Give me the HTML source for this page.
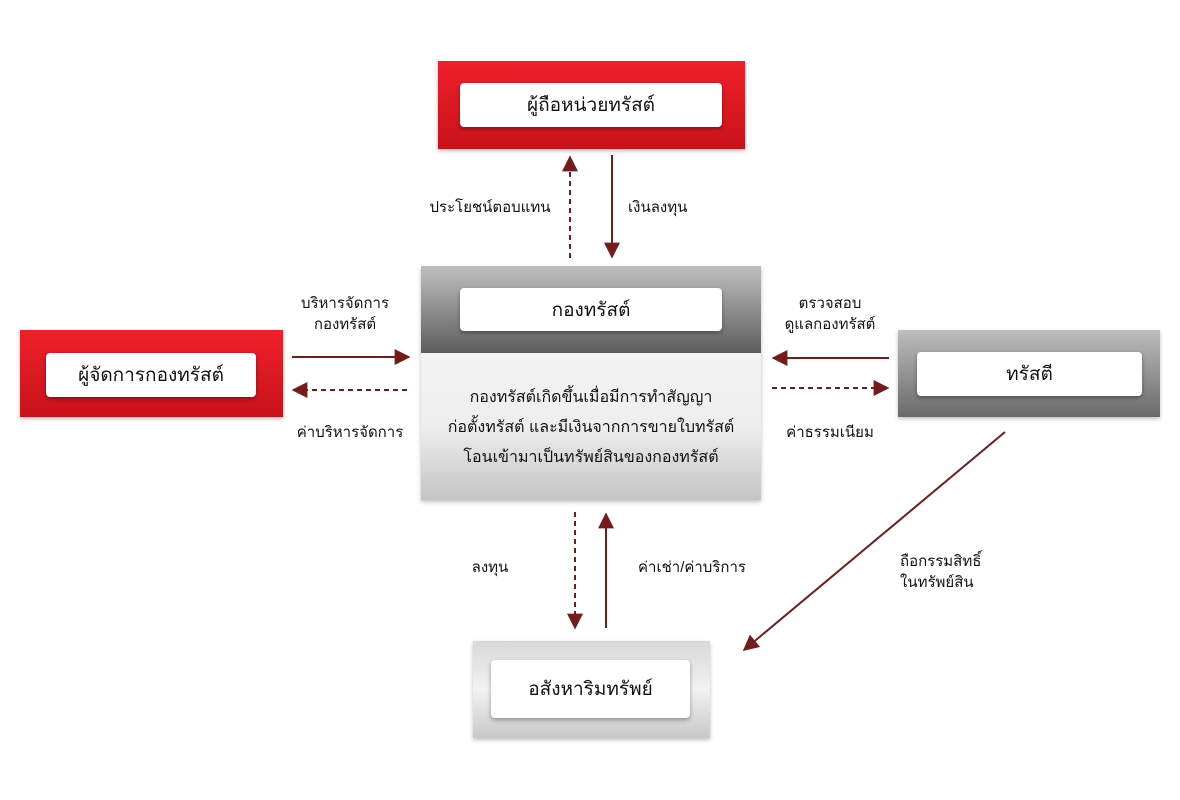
<!DOCTYPE html>
<html><head><meta charset="utf-8"><style>
body{margin:0;width:1180px;height:800px;background:#fff;position:relative;overflow:hidden;font-family:"Liberation Sans","DejaVu Sans",sans-serif;color:#111}
.b{position:absolute;box-shadow:0 2px 4px rgba(0,0,0,.25)}
.w{position:absolute;background:#fff;border-radius:4px;box-shadow:0 2px 4px rgba(0,0,0,.35);display:flex;align-items:center;justify-content:center;font-size:19px}
.red{background:linear-gradient(#f0202a,#c8121a)}
.t{position:absolute;font-size:15px;text-align:center;line-height:21px}
</style></head><body>
<div class="b red" style="left:438px;top:61px;width:307px;height:88px"></div>
<div class="w" style="left:460px;top:83px;width:262px;height:44px">ผู้ถือหน่วยทรัสต์</div>

<div class="b" style="left:421px;top:266px;width:340px;height:88px;background:linear-gradient(#c0c0c0,#5c5c5c)"></div>
<div class="b" style="left:421px;top:353px;width:340px;height:147px;background:linear-gradient(#f3f3f3 0%,#eeeeee 50%,#c4c4c4 100%)"></div>
<div class="w" style="left:460px;top:288px;width:262px;height:43px">กองทรัสต์</div>
<div class="t" style="left:421px;top:383px;width:340px;font-size:16px;line-height:30px">กองทรัสต์เกิดขึ้นเมื่อมีการทำสัญญา<br>ก่อตั้งทรัสต์ และมีเงินจากการขายใบทรัสต์<br>โอนเข้ามาเป็นทรัพย์สินของกองทรัสต์</div>

<div class="b red" style="left:20px;top:330px;width:263px;height:87px"></div>
<div class="w" style="left:46px;top:353px;width:210px;height:44px">ผู้จัดการกองทรัสต์</div>

<div class="b" style="left:898px;top:330px;width:262px;height:87px;background:linear-gradient(#bdbdbd,#6a6a6a)"></div>
<div class="w" style="left:917px;top:352px;width:225px;height:44px">ทรัสตี</div>

<div class="b" style="left:473px;top:641px;width:237px;height:97px;background:linear-gradient(#d8d8d8,#f2f2f2 50%,#c8c8c8)"></div>
<div class="w" style="left:491px;top:660px;width:199px;height:58px">อสังหาริมทรัพย์</div>

<svg width="1180" height="800" style="position:absolute;left:0;top:0">
<defs><marker id="a" markerWidth="10" markerHeight="10" refX="9" refY="5" orient="auto" markerUnits="userSpaceOnUse"><path d="M0,0 L10,5 L0,10 z" fill="#741b1b"/></marker>
<marker id="h" viewBox="0 0 10 10" markerWidth="16" markerHeight="16" refX="9" refY="5" orient="auto" markerUnits="userSpaceOnUse"><path d="M0,0 L10,5 L0,10 z" fill="#741b1b"/></marker></defs>
<g stroke="#741b1b" stroke-width="2" fill="none">
<line x1="570" y1="258" x2="570" y2="157" stroke-dasharray="5,4" marker-end="url(#h)"/>
<line x1="612" y1="155" x2="612" y2="257" marker-end="url(#h)"/>
<line x1="292" y1="357" x2="409" y2="357" marker-end="url(#h)"/>
<line x1="407" y1="390" x2="293" y2="390" stroke-dasharray="5,4" marker-end="url(#h)"/>
<line x1="889" y1="358" x2="773" y2="358" marker-end="url(#h)"/>
<line x1="772" y1="388" x2="888" y2="388" stroke-dasharray="5,4" marker-end="url(#h)"/>
<line x1="575" y1="512" x2="575" y2="628" stroke-dasharray="5,4" marker-end="url(#h)"/>
<line x1="606" y1="628" x2="606" y2="514" marker-end="url(#h)"/>
<line x1="1005" y1="432" x2="744" y2="650" marker-end="url(#h)"/>
</g></svg>

<div class="t" style="left:420px;top:197px;width:140px">ประโยชน์ตอบแทน</div>
<div class="t" style="left:628px;top:197px;width:80px;text-align:left">เงินลงทุน</div>
<div class="t" style="left:280px;top:293px;width:130px">บริหารจัดการ<br>กองทรัสต์</div>
<div class="t" style="left:280px;top:422px;width:140px">ค่าบริหารจัดการ</div>
<div class="t" style="left:770px;top:293px;width:120px">ตรวจสอบ<br>ดูแลกองทรัสต์</div>
<div class="t" style="left:770px;top:422px;width:120px">ค่าธรรมเนียม</div>
<div class="t" style="left:455px;top:557px;width:70px">ลงทุน</div>
<div class="t" style="left:638px;top:557px;width:130px;text-align:left">ค่าเช่า/ค่าบริการ</div>
<div class="t" style="left:900px;top:551px;width:120px;text-align:left">ถือกรรมสิทธิ์<br>ในทรัพย์สิน</div>
</body></html>
